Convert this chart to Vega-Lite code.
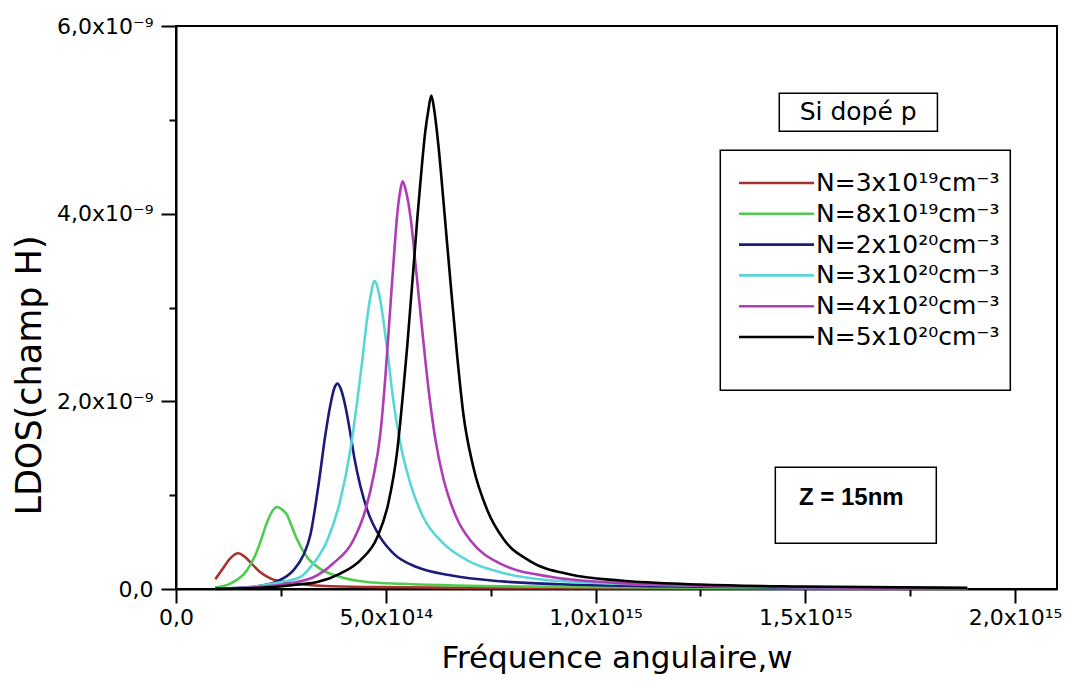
{
  "$schema": "https://vega.github.io/schema/vega-lite/v6.json",
  "width": 881,
  "height": 563,
  "autosize": "none",
  "padding": {"left": 176, "top": 26, "right": 11, "bottom": 95},
  "background": "white",
  "config": {"view": {"stroke": "black", "strokeWidth": 2}, "font": "DejaVu Sans"},
  "datasets": {
    "curves": [
      {"N": "N=3x10¹⁹cm⁻³", "w": 0.937e14, "ldos": 0.1034e-9},
      {"N": "N=3x10¹⁹cm⁻³", "w": 1.104e14, "ldos": 0.2099e-9},
      {"N": "N=3x10¹⁹cm⁻³", "w": 1.294e14, "ldos": 0.3272e-9},
      {"N": "N=3x10¹⁹cm⁻³", "w": 1.485e14, "ldos": 0.3805e-9},
      {"N": "N=3x10¹⁹cm⁻³", "w": 1.652e14, "ldos": 0.3378e-9},
      {"N": "N=3x10¹⁹cm⁻³", "w": 1.819e14, "ldos": 0.2632e-9},
      {"N": "N=3x10¹⁹cm⁻³", "w": 2.010e14, "ldos": 0.1780e-9},
      {"N": "N=3x10¹⁹cm⁻³", "w": 2.248e14, "ldos": 0.1140e-9},
      {"N": "N=3x10¹⁹cm⁻³", "w": 2.605e14, "ldos": 0.0714e-9},
      {"N": "N=3x10¹⁹cm⁻³", "w": 2.963e14, "ldos": 0.0501e-9},
      {"N": "N=3x10¹⁹cm⁻³", "w": 3.678e14, "ldos": 0.0288e-9},
      {"N": "N=3x10¹⁹cm⁻³", "w": 5.347e14, "ldos": 0.0181e-9},
      {"N": "N=3x10¹⁹cm⁻³", "w": 7.730e14, "ldos": 0.0096e-9},
      {"N": "N=3x10¹⁹cm⁻³", "w": 12.50e14, "ldos": 0.0053e-9},
      {"N": "N=3x10¹⁹cm⁻³", "w": 18.86e14, "ldos": 0.0032e-9},

      {"N": "N=8x10¹⁹cm⁻³", "w": 0.937e14, "ldos": 0.0149e-9},
      {"N": "N=8x10¹⁹cm⁻³", "w": 1.294e14, "ldos": 0.0575e-9},
      {"N": "N=8x10¹⁹cm⁻³", "w": 1.692e14, "ldos": 0.1990e-9},
      {"N": "N=8x10¹⁹cm⁻³", "w": 1.890e14, "ldos": 0.3600e-9},
      {"N": "N=8x10¹⁹cm⁻³", "w": 2.010e14, "ldos": 0.5000e-9},
      {"N": "N=8x10¹⁹cm⁻³", "w": 2.169e14, "ldos": 0.7100e-9},
      {"N": "N=8x10¹⁹cm⁻³", "w": 2.296e14, "ldos": 0.8300e-9},
      {"N": "N=8x10¹⁹cm⁻³", "w": 2.408e14, "ldos": 0.8740e-9},
      {"N": "N=8x10¹⁹cm⁻³", "w": 2.534e14, "ldos": 0.8450e-9},
      {"N": "N=8x10¹⁹cm⁻³", "w": 2.646e14, "ldos": 0.7900e-9},
      {"N": "N=8x10¹⁹cm⁻³", "w": 2.765e14, "ldos": 0.6600e-9},
      {"N": "N=8x10¹⁹cm⁻³", "w": 2.884e14, "ldos": 0.5300e-9},
      {"N": "N=8x10¹⁹cm⁻³", "w": 3.123e14, "ldos": 0.3400e-9},
      {"N": "N=8x10¹⁹cm⁻³", "w": 3.440e14, "ldos": 0.2150e-9},
      {"N": "N=8x10¹⁹cm⁻³", "w": 3.916e14, "ldos": 0.1280e-9},
      {"N": "N=8x10¹⁹cm⁻³", "w": 4.553e14, "ldos": 0.0746e-9},
      {"N": "N=8x10¹⁹cm⁻³", "w": 5.347e14, "ldos": 0.0554e-9},
      {"N": "N=8x10¹⁹cm⁻³", "w": 6.539e14, "ldos": 0.0394e-9},
      {"N": "N=8x10¹⁹cm⁻³", "w": 8.922e14, "ldos": 0.0234e-9},
      {"N": "N=8x10¹⁹cm⁻³", "w": 12.50e14, "ldos": 0.0128e-9},
      {"N": "N=8x10¹⁹cm⁻³", "w": 18.86e14, "ldos": 0.0064e-9},

      {"N": "N=2x10²⁰cm⁻³", "w": 0.937e14, "ldos": 0.0043e-9},
      {"N": "N=2x10²⁰cm⁻³", "w": 1.533e14, "ldos": 0.0128e-9},
      {"N": "N=2x10²⁰cm⁻³", "w": 2.010e14, "ldos": 0.0341e-9},
      {"N": "N=2x10²⁰cm⁻³", "w": 2.415e14, "ldos": 0.0821e-9},
      {"N": "N=2x10²⁰cm⁻³", "w": 2.796e14, "ldos": 0.1993e-9},
      {"N": "N=2x10²⁰cm⁻³", "w": 3.035e14, "ldos": 0.3591e-9},
      {"N": "N=2x10²⁰cm⁻³", "w": 3.201e14, "ldos": 0.5723e-9},
      {"N": "N=2x10²⁰cm⁻³", "w": 3.392e14, "ldos": 1.0945e-9},
      {"N": "N=2x10²⁰cm⁻³", "w": 3.559e14, "ldos": 1.6380e-9},
      {"N": "N=2x10²⁰cm⁻³", "w": 3.678e14, "ldos": 1.9577e-9},
      {"N": "N=2x10²⁰cm⁻³", "w": 3.773e14, "ldos": 2.1389e-9},
      {"N": "N=2x10²⁰cm⁻³", "w": 3.852e14, "ldos": 2.1889e-9},
      {"N": "N=2x10²⁰cm⁻³", "w": 3.940e14, "ldos": 2.1175e-9},
      {"N": "N=2x10²⁰cm⁻³", "w": 4.059e14, "ldos": 1.9000e-9},
      {"N": "N=2x10²⁰cm⁻³", "w": 4.155e14, "ldos": 1.6600e-9},
      {"N": "N=2x10²⁰cm⁻³", "w": 4.250e14, "ldos": 1.4000e-9},
      {"N": "N=2x10²⁰cm⁻³", "w": 4.393e14, "ldos": 1.1000e-9},
      {"N": "N=2x10²⁰cm⁻³", "w": 4.560e14, "ldos": 0.8400e-9},
      {"N": "N=2x10²⁰cm⁻³", "w": 4.870e14, "ldos": 0.5500e-9},
      {"N": "N=2x10²⁰cm⁻³", "w": 5.180e14, "ldos": 0.3805e-9},
      {"N": "N=2x10²⁰cm⁻³", "w": 5.752e14, "ldos": 0.2313e-9},
      {"N": "N=2x10²⁰cm⁻³", "w": 6.539e14, "ldos": 0.1460e-9},
      {"N": "N=2x10²⁰cm⁻³", "w": 7.730e14, "ldos": 0.0821e-9},
      {"N": "N=2x10²⁰cm⁻³", "w": 9.161e14, "ldos": 0.0501e-9},
      {"N": "N=2x10²⁰cm⁻³", "w": 11.31e14, "ldos": 0.0309e-9},
      {"N": "N=2x10²⁰cm⁻³", "w": 14.88e14, "ldos": 0.0160e-9},
      {"N": "N=2x10²⁰cm⁻³", "w": 18.86e14, "ldos": 0.0075e-9},

      {"N": "N=3x10²⁰cm⁻³", "w": 0.937e14, "ldos": 0.0032e-9},
      {"N": "N=3x10²⁰cm⁻³", "w": 1.533e14, "ldos": 0.0128e-9},
      {"N": "N=3x10²⁰cm⁻³", "w": 2.010e14, "ldos": 0.0341e-9},
      {"N": "N=3x10²⁰cm⁻³", "w": 2.486e14, "ldos": 0.0714e-9},
      {"N": "N=3x10²⁰cm⁻³", "w": 2.963e14, "ldos": 0.1279e-9},
      {"N": "N=3x10²⁰cm⁻³", "w": 3.201e14, "ldos": 0.2313e-9},
      {"N": "N=3x10²⁰cm⁻³", "w": 3.607e14, "ldos": 0.5190e-9},
      {"N": "N=3x10²⁰cm⁻³", "w": 3.916e14, "ldos": 0.9453e-9},
      {"N": "N=3x10²⁰cm⁻³", "w": 4.155e14, "ldos": 1.4781e-9},
      {"N": "N=3x10²⁰cm⁻³", "w": 4.322e14, "ldos": 2.0110e-9},
      {"N": "N=3x10²⁰cm⁻³", "w": 4.441e14, "ldos": 2.4373e-9},
      {"N": "N=3x10²⁰cm⁻³", "w": 4.560e14, "ldos": 2.8955e-9},
      {"N": "N=3x10²⁰cm⁻³", "w": 4.655e14, "ldos": 3.1619e-9},
      {"N": "N=3x10²⁰cm⁻³", "w": 4.727e14, "ldos": 3.2845e-9},
      {"N": "N=3x10²⁰cm⁻³", "w": 4.798e14, "ldos": 3.2259e-9},
      {"N": "N=3x10²⁰cm⁻³", "w": 4.870e14, "ldos": 3.0767e-9},
      {"N": "N=3x10²⁰cm⁻³", "w": 5.037e14, "ldos": 2.5438e-9},
      {"N": "N=3x10²⁰cm⁻³", "w": 5.180e14, "ldos": 2.0110e-9},
      {"N": "N=3x10²⁰cm⁻³", "w": 5.347e14, "ldos": 1.5527e-9},
      {"N": "N=3x10²⁰cm⁻³", "w": 5.585e14, "ldos": 1.1264e-9},
      {"N": "N=3x10²⁰cm⁻³", "w": 5.895e14, "ldos": 0.7641e-9},
      {"N": "N=3x10²⁰cm⁻³", "w": 6.372e14, "ldos": 0.4870e-9},
      {"N": "N=3x10²⁰cm⁻³", "w": 6.944e14, "ldos": 0.3059e-9},
      {"N": "N=3x10²⁰cm⁻³", "w": 7.730e14, "ldos": 0.1780e-9},
      {"N": "N=3x10²⁰cm⁻³", "w": 8.922e14, "ldos": 0.0927e-9},
      {"N": "N=3x10²⁰cm⁻³", "w": 10.59e14, "ldos": 0.0554e-9},
      {"N": "N=3x10²⁰cm⁻³", "w": 12.50e14, "ldos": 0.0341e-9},
      {"N": "N=3x10²⁰cm⁻³", "w": 14.88e14, "ldos": 0.0202e-9},
      {"N": "N=3x10²⁰cm⁻³", "w": 18.86e14, "ldos": 0.0075e-9},

      {"N": "N=4x10²⁰cm⁻³", "w": 0.937e14, "ldos": 0.0021e-9},
      {"N": "N=4x10²⁰cm⁻³", "w": 1.771e14, "ldos": 0.0149e-9},
      {"N": "N=4x10²⁰cm⁻³", "w": 2.486e14, "ldos": 0.0448e-9},
      {"N": "N=4x10²⁰cm⁻³", "w": 3.273e14, "ldos": 0.1247e-9},
      {"N": "N=4x10²⁰cm⁻³", "w": 3.750e14, "ldos": 0.2739e-9},
      {"N": "N=4x10²⁰cm⁻³", "w": 4.226e14, "ldos": 0.5190e-9},
      {"N": "N=4x10²⁰cm⁻³", "w": 4.512e14, "ldos": 0.8387e-9},
      {"N": "N=4x10²⁰cm⁻³", "w": 4.703e14, "ldos": 1.1900e-9},
      {"N": "N=4x10²⁰cm⁻³", "w": 4.870e14, "ldos": 1.6500e-9},
      {"N": "N=4x10²⁰cm⁻³", "w": 4.989e14, "ldos": 2.2500e-9},
      {"N": "N=4x10²⁰cm⁻³", "w": 5.108e14, "ldos": 3.0000e-9},
      {"N": "N=4x10²⁰cm⁻³", "w": 5.204e14, "ldos": 3.6000e-9},
      {"N": "N=4x10²⁰cm⁻³", "w": 5.275e14, "ldos": 4.0000e-9},
      {"N": "N=4x10²⁰cm⁻³", "w": 5.347e14, "ldos": 4.2500e-9},
      {"N": "N=4x10²⁰cm⁻³", "w": 5.402e14, "ldos": 4.3450e-9},
      {"N": "N=4x10²⁰cm⁻³", "w": 5.466e14, "ldos": 4.2700e-9},
      {"N": "N=4x10²⁰cm⁻³", "w": 5.537e14, "ldos": 4.1200e-9},
      {"N": "N=4x10²⁰cm⁻³", "w": 5.633e14, "ldos": 3.8000e-9},
      {"N": "N=4x10²⁰cm⁻³", "w": 5.704e14, "ldos": 3.4800e-9},
      {"N": "N=4x10²⁰cm⁻³", "w": 5.871e14, "ldos": 2.7500e-9},
      {"N": "N=4x10²⁰cm⁻³", "w": 6.014e14, "ldos": 2.1500e-9},
      {"N": "N=4x10²⁰cm⁻³", "w": 6.181e14, "ldos": 1.6000e-9},
      {"N": "N=4x10²⁰cm⁻³", "w": 6.372e14, "ldos": 1.1800e-9},
      {"N": "N=4x10²⁰cm⁻³", "w": 6.539e14, "ldos": 0.9300e-9},
      {"N": "N=4x10²⁰cm⁻³", "w": 6.729e14, "ldos": 0.7200e-9},
      {"N": "N=4x10²⁰cm⁻³", "w": 7.015e14, "ldos": 0.5200e-9},
      {"N": "N=4x10²⁰cm⁻³", "w": 7.730e14, "ldos": 0.2700e-9},
      {"N": "N=4x10²⁰cm⁻³", "w": 8.922e14, "ldos": 0.1300e-9},
      {"N": "N=4x10²⁰cm⁻³", "w": 10.42e14, "ldos": 0.0680e-9},
      {"N": "N=4x10²⁰cm⁻³", "w": 12.50e14, "ldos": 0.0350e-9},
      {"N": "N=4x10²⁰cm⁻³", "w": 14.88e14, "ldos": 0.0190e-9},
      {"N": "N=4x10²⁰cm⁻³", "w": 18.86e14, "ldos": 0.0060e-9},

      {"N": "N=5x10²⁰cm⁻³", "w": 0.937e14, "ldos": 0.0011e-9},
      {"N": "N=5x10²⁰cm⁻³", "w": 2.010e14, "ldos": 0.0128e-9},
      {"N": "N=5x10²⁰cm⁻³", "w": 2.963e14, "ldos": 0.0501e-9},
      {"N": "N=5x10²⁰cm⁻³", "w": 3.368e14, "ldos": 0.0746e-9},
      {"N": "N=5x10²⁰cm⁻³", "w": 3.916e14, "ldos": 0.1641e-9},
      {"N": "N=5x10²⁰cm⁻³", "w": 4.393e14, "ldos": 0.3059e-9},
      {"N": "N=5x10²⁰cm⁻³", "w": 4.798e14, "ldos": 0.5510e-9},
      {"N": "N=5x10²⁰cm⁻³", "w": 5.061e14, "ldos": 0.9133e-9},
      {"N": "N=5x10²⁰cm⁻³", "w": 5.275e14, "ldos": 1.4781e-9},
      {"N": "N=5x10²⁰cm⁻³", "w": 5.418e14, "ldos": 2.1180e-9},
      {"N": "N=5x10²⁰cm⁻³", "w": 5.514e14, "ldos": 2.6000e-9},
      {"N": "N=5x10²⁰cm⁻³", "w": 5.585e14, "ldos": 3.0000e-9},
      {"N": "N=5x10²⁰cm⁻³", "w": 5.657e14, "ldos": 3.4000e-9},
      {"N": "N=5x10²⁰cm⁻³", "w": 5.752e14, "ldos": 3.9500e-9},
      {"N": "N=5x10²⁰cm⁻³", "w": 5.823e14, "ldos": 4.3200e-9},
      {"N": "N=5x10²⁰cm⁻³", "w": 5.943e14, "ldos": 4.8800e-9},
      {"N": "N=5x10²⁰cm⁻³", "w": 6.014e14, "ldos": 5.1000e-9},
      {"N": "N=5x10²⁰cm⁻³", "w": 6.086e14, "ldos": 5.2600e-9},
      {"N": "N=5x10²⁰cm⁻³", "w": 6.157e14, "ldos": 5.1000e-9},
      {"N": "N=5x10²⁰cm⁻³", "w": 6.252e14, "ldos": 4.7400e-9},
      {"N": "N=5x10²⁰cm⁻³", "w": 6.372e14, "ldos": 4.1500e-9},
      {"N": "N=5x10²⁰cm⁻³", "w": 6.467e14, "ldos": 3.6600e-9},
      {"N": "N=5x10²⁰cm⁻³", "w": 6.539e14, "ldos": 3.2900e-9},
      {"N": "N=5x10²⁰cm⁻³", "w": 6.705e14, "ldos": 2.4700e-9},
      {"N": "N=5x10²⁰cm⁻³", "w": 6.848e14, "ldos": 1.8700e-9},
      {"N": "N=5x10²⁰cm⁻³", "w": 7.087e14, "ldos": 1.3000e-9},
      {"N": "N=5x10²⁰cm⁻³", "w": 7.421e14, "ldos": 0.8400e-9},
      {"N": "N=5x10²⁰cm⁻³", "w": 7.802e14, "ldos": 0.5350e-9},
      {"N": "N=5x10²⁰cm⁻³", "w": 8.446e14, "ldos": 0.2950e-9},
      {"N": "N=5x10²⁰cm⁻³", "w": 9.399e14, "ldos": 0.1550e-9},
      {"N": "N=5x10²⁰cm⁻³", "w": 10.59e14, "ldos": 0.0900e-9},
      {"N": "N=5x10²⁰cm⁻³", "w": 12.50e14, "ldos": 0.0480e-9},
      {"N": "N=5x10²⁰cm⁻³", "w": 14.88e14, "ldos": 0.0260e-9},
      {"N": "N=5x10²⁰cm⁻³", "w": 18.86e14, "ldos": 0.0120e-9}
    ],
    "boxes": [
      {"x": 1.438e15, "x2": 1.815e15, "y": 5.283e-9, "y2": 4.878e-9, "cx": 1.626e15, "cy": 5.08e-9, "label": "Si dopé p"},
      {"x": 1.2974e15, "x2": 1.9887e15, "y": 4.6753e-9, "y2": 2.1176e-9, "cx": null, "cy": null, "label": ""},
      {"x": 1.4286e15, "x2": 1.8123e15, "y": 1.297e-9, "y2": 0.487e-9, "cx": 1.6097e15, "cy": 0.9666e-9, "label": "Z = 15nm"}
    ]
  },
  "layer": [
    {
      "data": {"name": "boxes"},
      "mark": {"type": "rect", "fill": "white", "stroke": "black", "strokeWidth": 1.5},
      "encoding": {
        "x": {"field": "x", "type": "quantitative", "scale": {"domain": [0, 2.1e15], "nice": false, "zero": false}},
        "x2": {"field": "x2"},
        "y": {"field": "y", "type": "quantitative", "scale": {"domain": [0, 6e-9], "nice": false, "zero": false}},
        "y2": {"field": "y2"}
      }
    },
    {
      "data": {"name": "curves"},
      "mark": {"type": "line", "strokeWidth": 2.6, "interpolate": "monotone"},
      "encoding": {
        "x": {
          "field": "w", "type": "quantitative",
          "scale": {"domain": [0, 2.1e15], "nice": false, "zero": false},
          "axis": {
            "values": [0, 2.5e14, 5e14, 7.5e14, 1e15, 1.25e15, 1.5e15, 1.75e15, 2e15],
            "labelExpr": "datum.value == 0 ? '0,0' : datum.value == 5e14 ? '5,0x10¹⁴' : datum.value == 1e15 ? '1,0x10¹⁵' : datum.value == 1.5e15 ? '1,5x10¹⁵' : datum.value == 2e15 ? '2,0x10¹⁵' : ''",
            "tickSize": {"condition": {"test": "datum.value % 5e14 == 0", "value": 14}, "value": 7},
            "grid": false,
            "domainColor": "black", "domainWidth": 2,
            "tickColor": "black", "tickWidth": 2,
            "labelFont": "DejaVu Sans", "labelFontSize": 22, "labelColor": "black", "labelPadding": 4,
            "labelFlush": false, "labelOverlap": false,
            "title": "Fréquence angulaire,w",
            "titleFont": "DejaVu Sans", "titleFontSize": 31, "titleFontWeight": "normal", "titleColor": "black", "titlePadding": 15
          }
        },
        "y": {
          "field": "ldos", "type": "quantitative",
          "scale": {"domain": [0, 6e-9], "nice": false, "zero": false},
          "axis": {
            "values": [0, 1e-9, 2e-9, 3e-9, 4e-9, 5e-9, 6e-9],
            "labelExpr": "round(datum.value*1e9) == 0 ? '0,0' : round(datum.value*1e9) % 2 == 0 ? round(datum.value*1e9) + ',0x10⁻⁹' : ''",
            "tickSize": {"condition": {"test": "round(datum.value*1e9) % 2 == 0", "value": 15}, "value": 7},
            "grid": false,
            "domainColor": "black", "domainWidth": 2,
            "tickColor": "black", "tickWidth": 2,
            "labelFont": "DejaVu Sans", "labelFontSize": 22, "labelColor": "black", "labelPadding": 8,
            "labelFlush": false, "labelOverlap": false,
            "title": "LDOS(champ H)",
            "titleFont": "DejaVu Sans", "titleFontSize": 35, "titleFontWeight": "normal", "titleColor": "black", "titlePadding": 9,
            "titleY": 349
          }
        },
        "color": {
          "field": "N", "type": "nominal",
          "scale": {
            "domain": ["N=3x10¹⁹cm⁻³", "N=8x10¹⁹cm⁻³", "N=2x10²⁰cm⁻³", "N=3x10²⁰cm⁻³", "N=4x10²⁰cm⁻³", "N=5x10²⁰cm⁻³"],
            "range": ["#A8322D", "#4FCB4F", "#1B1B7A", "#58D6D8", "#B03CB4", "#000000"]
          },
          "legend": {
            "orient": "none", "legendX": 558, "legendY": 142,
            "title": null,
            "symbolType": "M-1,0H9", "symbolSize": 225, "symbolStrokeWidth": 2.6,
            "labelOffset": 57,
            "labelFont": "DejaVu Sans", "labelFontSize": 25, "labelColor": "black", "labelLimit": 400,
            "padding": 0, "clipHeight": 30, "rowPadding": 0.8
          }
        }
      }
    },
    {
      "data": {"name": "boxes"},
      "transform": [{"filter": "datum.label == 'Si dopé p'"}],
      "mark": {"type": "text", "font": "DejaVu Sans", "fontSize": 25, "color": "black", "align": "center", "baseline": "middle"},
      "encoding": {
        "x": {"field": "cx", "type": "quantitative"},
        "y": {"field": "cy", "type": "quantitative"},
        "text": {"field": "label"}
      }
    },
    {
      "data": {"name": "boxes"},
      "transform": [{"filter": "datum.label == 'Z = 15nm'"}],
      "mark": {"type": "text", "font": "Liberation Sans", "fontSize": 24, "fontWeight": "bold", "color": "black", "align": "center", "baseline": "middle"},
      "encoding": {
        "x": {"field": "cx", "type": "quantitative"},
        "y": {"field": "cy", "type": "quantitative"},
        "text": {"field": "label"}
      }
    }
  ]
}
